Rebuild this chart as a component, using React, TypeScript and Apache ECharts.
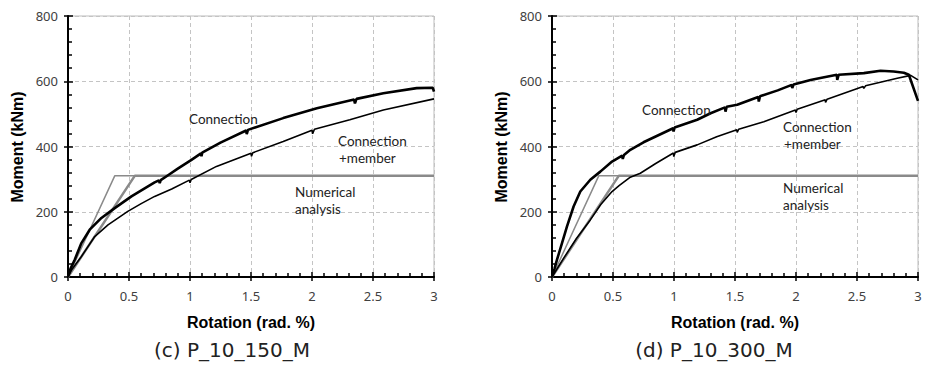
import React, { useEffect, useRef } from "react";
import * as echarts from "echarts";

// ---------- data (x: rotation rad.%, y: moment kNm) ----------
const xTicks = [0, 0.5, 1, 1.5, 2, 2.5, 3];
const yTicks = [0, 200, 400, 600, 800];

// (c) P_10_150_M
const c150Connection: [number, number][] = [
  [0, 0], [0.02, 25], [0.055, 53], [0.11, 104], [0.178, 145], [0.274, 181], [0.383, 211],
  [0.52, 247], [0.71, 290], [0.745, 296], [0.752, 288], [0.76, 297], [0.82, 312], [0.9, 332],
  [1.012, 359], [1.09, 379], [1.094, 370], [1.1, 381], [1.25, 412], [1.46, 449], [1.465, 438],
  [1.475, 451], [1.764, 487], [2.04, 517], [2.345, 544], [2.352, 532], [2.365, 546],
  [2.585, 563], [2.858, 579], [2.99, 580], [3.0, 568],
];
const c150Member: [number, number][] = [
  [0, 0], [0.03, 22], [0.11, 63], [0.219, 124], [0.328, 160], [0.49, 201], [0.6, 225],
  [0.71, 247], [0.85, 270], [0.995, 297], [1.0, 289], [1.01, 299], [1.217, 339], [1.5, 379],
  [1.504, 370], [1.515, 381], [1.764, 415], [2.0, 450], [2.005, 439], [2.02, 453], [2.31, 482],
  [2.585, 512], [3.0, 546],
];
const c150NumericalA: [number, number][] = [[0, 0], [0.383, 310], [3, 310]];
const c150NumericalB: [number, number][] = [[0, 0], [0.547, 310], [3, 310]];

// (d) P_10_300_M
const d300Connection: [number, number][] = [
  [0, 0], [0.02, 25], [0.041, 53], [0.082, 104], [0.123, 155], [0.177, 216], [0.232, 262],
  [0.314, 298], [0.396, 323], [0.492, 354], [0.575, 372], [0.58, 362], [0.59, 374], [0.642, 390],
  [0.75, 413], [0.993, 456], [0.996, 446], [1.005, 458], [1.19, 482], [1.3, 502], [1.418, 520],
  [1.422, 507], [1.432, 522], [1.518, 528], [1.69, 552], [1.695, 538], [1.705, 554], [1.85, 572],
  [1.965, 589], [1.969, 579], [1.98, 590], [2.119, 604], [2.2, 610], [2.335, 620], [2.338, 604],
  [2.35, 620], [2.556, 625], [2.693, 632], [2.8, 630], [2.884, 626], [2.925, 620], [3.0, 540],
];
const d300Member: [number, number][] = [
  [0, 0], [0.1, 60], [0.2, 118], [0.314, 175], [0.4, 222], [0.492, 262], [0.55, 280],
  [0.642, 306], [0.724, 318], [0.85, 348], [0.995, 380], [0.998, 369], [1.01, 382], [1.19, 405],
  [1.35, 430], [1.515, 451], [1.518, 443], [1.53, 453], [1.736, 476], [1.995, 512], [2.0, 504],
  [2.01, 514], [2.24, 543], [2.242, 535], [2.255, 545], [2.55, 584], [2.556, 578], [2.57, 586],
  [2.83, 609], [2.94, 618], [3.0, 604],
];
const d300NumericalA: [number, number][] = [[0, 0], [0.383, 310], [3, 310]];
const d300NumericalB: [number, number][] = [[0, 0], [0.547, 310], [3, 310]];

const captions = ["(c) P_10_150_M", "(d) P_10_300_M"];
const xTitle = "Rotation (rad. %)";
const yTitle = "Moment (kNm)";
const labelConnection = "Connection";
const labelMember = ["Connection", "+member"];
const labelNumerical = ["Numerical", "analysis"];

// ---------- layout ----------
const grids = [
  { left: 68, top: 16, width: 366, height: 261 },
  { left: 552, top: 16, width: 366, height: 261 },
];

const TICK_FONT = "'Noto Sans', sans-serif";
const ANNO_FONT = "Lato, 'Liberation Sans', sans-serif";

function buildOption() {
  const xAxis: any[] = [];
  const yAxis: any[] = [];
  grids.forEach((_, gi) => {
    xAxis.push({
      type: "value", gridIndex: gi, min: 0, max: 3, interval: 0.5,
      axisLine: { show: true, onZero: false, lineStyle: { color: "#000", width: 2 } },
      axisTick: { show: true, inside: true, length: 5, lineStyle: { color: "#000", width: 1.5 } },
      minorTick: { show: true, splitNumber: 5, length: 4, lineStyle: { color: "#000", width: 1.5 } },
      axisLabel: {
        margin: 12, fontSize: 13, color: "#404040", fontFamily: TICK_FONT,
        formatter: (v: number) => (xTicks.includes(v) ? String(v) : ""),
      },
      splitLine: { show: true, lineStyle: { color: "#c4c4c4", width: 1, type: [4, 3] } },
    });
    xAxis.push({
      type: "value", gridIndex: gi, min: 0, max: 3, interval: 0.5, position: "bottom",
      axisLine: { show: false }, axisLabel: { show: false }, splitLine: { show: false },
      axisTick: { show: true, inside: false, length: 4, lineStyle: { color: "#000", width: 1.5 } },
    });
    yAxis.push({
      type: "value", gridIndex: gi, min: 0, max: 800, interval: 200,
      axisLine: { show: true, onZero: false, lineStyle: { color: "#000", width: 2 } },
      axisTick: { show: true, inside: true, length: 5, lineStyle: { color: "#000", width: 1.5 } },
      minorTick: { show: true, splitNumber: 5, length: 4, lineStyle: { color: "#000", width: 1.5 } },
      axisLabel: {
        margin: 10, fontSize: 13, color: "#404040", fontFamily: TICK_FONT,
        formatter: (v: number) => (yTicks.includes(v) ? String(v) : ""),
      },
      splitLine: { show: true, lineStyle: { color: "#c4c4c4", width: 1, type: [4, 3] } },
    });
    yAxis.push({
      type: "value", gridIndex: gi, min: 0, max: 800, interval: 200, position: "left",
      axisLine: { show: false }, axisLabel: { show: false }, splitLine: { show: false },
      axisTick: { show: true, inside: false, length: 4, lineStyle: { color: "#000", width: 1.5 } },
    });
  });

  const line = (name: string, data: [number, number][], gi: number, color: string, width: number, z: number) => ({
    type: "line", name, data, xAxisIndex: gi * 2, yAxisIndex: gi * 2,
    showSymbol: false, symbol: "none", smooth: false, z,
    lineStyle: { color, width }, emphasis: { disabled: true },
  });

  const series = [
    line("Numerical analysis (a)", c150NumericalA, 0, "#8a8a8a", 1.5, 2),
    line("Numerical analysis (b)", c150NumericalB, 0, "#8a8a8a", 2.5, 2),
    line("Connection+member", c150Member, 0, "#000", 1.6, 3),
    line("Connection", c150Connection, 0, "#000", 2.6, 4),
    line("Numerical analysis (a)", d300NumericalA, 1, "#8a8a8a", 1.5, 2),
    line("Numerical analysis (b)", d300NumericalB, 1, "#8a8a8a", 2.5, 2),
    line("Connection+member", d300Member, 1, "#000", 1.6, 3),
    line("Connection", d300Connection, 1, "#000", 2.6, 4),
  ];

  const txt = (text: string, x: number, y: number, extra: any = {}) => ({
    type: "text", x, y, z: 10,
    style: {
      text, fill: "#222", fontSize: 13.5, lineHeight: 15, fontFamily: ANNO_FONT,
      align: "left", verticalAlign: "middle", ...extra,
    },
  });
  const bold = { fontFamily: "'Liberation Sans', Arial, sans-serif", fontWeight: "bold", fontSize: 16, lineHeight: 18, fill: "#000", align: "center" };
  const cap = { align: "center", fontSize: 20, lineHeight: 22, fill: "#222", fontFamily: "'DejaVu Sans', sans-serif" };

  const graphic: any[] = [
    // left panel annotations
    txt(labelConnection, 189, 119),
    txt(labelMember[0], 338, 141),
    txt(labelMember[1], 339, 158),
    txt(labelNumerical[0], 295, 192),
    txt(labelNumerical[1], 295, 209),
    // right panel annotations
    txt(labelConnection, 642, 110),
    txt(labelMember[0], 783, 127),
    txt(labelMember[1], 784, 144),
    txt(labelNumerical[0], 783, 188),
    txt(labelNumerical[1], 783, 205),
    // axis titles
    txt(xTitle, 251, 322, bold),
    txt(xTitle, 735, 322, bold),
    { type: "text", x: 17, y: 147, rotation: Math.PI / 2, z: 10, style: { text: yTitle, ...bold, verticalAlign: "middle" } },
    { type: "text", x: 501, y: 147, rotation: Math.PI / 2, z: 10, style: { text: yTitle, ...bold, verticalAlign: "middle" } },
    // captions
    txt(captions[0], 232, 350, cap),
    txt(captions[1], 714, 350, cap),
  ];

  return {
    animation: false,
    backgroundColor: "#fff",
    grid: grids.map((g) => ({ ...g, show: true, borderColor: "#bdbdbd", borderWidth: 1, backgroundColor: "transparent" })),
    xAxis, yAxis, series, graphic,
  };
}

export default function App() {
  const ref = useRef<HTMLDivElement>(null);
  useEffect(() => {
    if (!ref.current) return;
    const chart = echarts.init(ref.current, undefined, { renderer: "svg" });
    chart.setOption(buildOption() as any);
    return () => chart.dispose();
  }, []);
  return (
    <div
      ref={ref}
      style={{ position: "fixed", left: 0, top: 0, width: 934, height: 365, background: "#fff" }}
    />
  );
}
